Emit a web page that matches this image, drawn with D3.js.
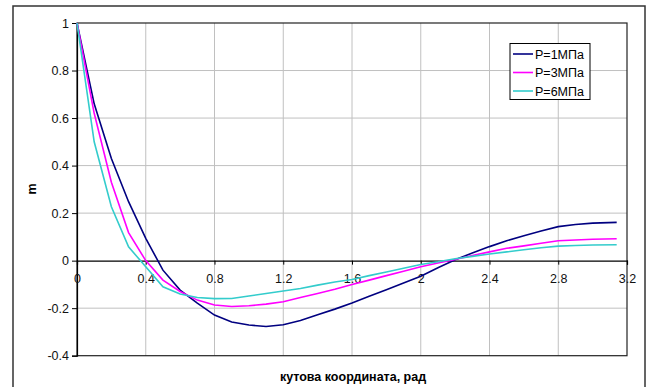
<!DOCTYPE html>
<html><head><meta charset="utf-8">
<script src="https://cdn.jsdelivr.net/npm/d3@7"></script>
<style>body{margin:0;background:#fff}svg{display:block;font-family:"Liberation Sans",Arial,sans-serif}</style>
</head><body><svg id="c" width="652" height="387"></svg>
<script>
const xValues = [0,0.1,0.2,0.3,0.4,0.5,0.6,0.7,0.8,0.9,1.0,1.1,1.2,1.3,1.4,1.5,1.6,1.7,1.8,1.9,2.0,2.1,2.2,2.3,2.4,2.5,2.6,2.7,2.8,2.9,3.0,3.14];
const p1 = [1.0,0.66,0.43,0.248,0.094,-0.04,-0.124,-0.179,-0.229,-0.258,-0.271,-0.277,-0.27,-0.252,-0.228,-0.204,-0.178,-0.15,-0.122,-0.094,-0.066,-0.03,0.004,0.032,0.059,0.084,0.105,0.125,0.143,0.152,0.158,0.161];
const p3 = [1.0,0.62,0.33,0.118,0.0,-0.082,-0.13,-0.166,-0.187,-0.193,-0.19,-0.183,-0.173,-0.155,-0.138,-0.12,-0.1,-0.082,-0.063,-0.045,-0.026,-0.01,0.005,0.022,0.037,0.052,0.062,0.073,0.084,0.087,0.09,0.092];
const p6 = [1.0,0.5,0.227,0.058,-0.026,-0.11,-0.14,-0.155,-0.16,-0.159,-0.149,-0.138,-0.128,-0.117,-0.103,-0.09,-0.079,-0.063,-0.048,-0.032,-0.016,-0.005,0.008,0.018,0.028,0.037,0.046,0.054,0.061,0.064,0.066,0.067];
const seriesNames = ["P=1МПа","P=3МПа","P=6МПа"];
const seriesColors = ["#000080","#ff00ff","#33cccc"];
const xTicks = [0,0.4,0.8,1.2,1.6,2,2.4,2.8,3.2];
const yTicks = [-0.4,-0.2,0,0.2,0.4,0.6,0.8,1];
const xTitle = "кутова координата, рад";
const yTitle = "m";

const svg = d3.select("#c");
const L=77,R=627,T=23,B=355.7;
const FS=12.5;
const x = d3.scaleLinear().domain([0,3.2]).range([L,R]);
const y = d3.scaleLinear().domain([-0.4,1]).range([B,T]);

svg.append("rect").attr("x",13).attr("y",6).attr("width",632).attr("height",395)
  .attr("fill","#fff").attr("stroke","#333").attr("stroke-width",1.5);

// grid
svg.append("g").selectAll("line").data(xTicks.filter(d=>d>0&&d<3.2)).join("line")
  .attr("x1",d=>x(d)).attr("x2",d=>x(d)).attr("y1",T).attr("y2",B)
  .attr("stroke","#c0c0c0").attr("stroke-width",1);
svg.append("g").selectAll("line").data(yTicks.filter(d=>d>-0.4&&d<1&&d!==0)).join("line")
  .attr("x1",L).attr("x2",R).attr("y1",d=>y(d)).attr("y2",d=>y(d))
  .attr("stroke","#c0c0c0").attr("stroke-width",1);

// plot border
svg.append("rect").attr("x",L).attr("y",T).attr("width",R-L).attr("height",B-T)
  .attr("fill","none").attr("stroke","#222").attr("stroke-width",1.2);

// y axis
const ya = d3.axisLeft(y).tickValues(yTicks).tickFormat(d=>String(+d.toFixed(1))).tickSize(5).tickPadding(3);
const gy = svg.append("g").attr("transform",`translate(${L},0)`).call(ya);
gy.select(".domain").attr("stroke","#000").attr("stroke-width",1.2);
gy.selectAll("text").attr("font-size",FS).attr("fill","#111").attr("font-family","Liberation Sans, Arial");

// x axis at zero
const xa = d3.axisBottom(x).tickValues(xTicks).tickFormat(d=>String(+d.toFixed(1))).tickSize(4).tickPadding(9);
const gx = svg.append("g").attr("transform",`translate(0,${y(0)})`).call(xa);
gx.select(".domain").attr("stroke","#000").attr("stroke-width",1.2);
gx.selectAll("text").attr("font-size",FS).attr("fill","#111").attr("font-family","Liberation Sans, Arial");

// lines
const all=[p1,p3,p6];
const line = d3.line().x((d,i)=>x(xValues[i])).y(d=>y(d));
all.forEach((s,k)=>{
  svg.append("path").datum(s).attr("d",line).attr("fill","none")
    .attr("stroke",seriesColors[k]).attr("stroke-width",1.6);
});

// titles
svg.append("text").attr("x",353).attr("y",381).attr("text-anchor","middle")
  .attr("font-size",FS).attr("font-weight","bold").text(xTitle);
svg.append("text").attr("transform","translate(36,189) rotate(-90)").attr("text-anchor","middle")
  .attr("font-size",FS).attr("font-weight","bold").text(yTitle);

// legend
const lg = svg.append("g");
lg.append("rect").attr("x",510).attr("y",43.5).attr("width",80).attr("height",56)
  .attr("fill","#fff").attr("stroke","#000").attr("stroke-width",1);
seriesNames.forEach((n,i)=>{
  const yy = 54 + i*18.5;
  lg.append("line").attr("x1",513).attr("x2",533).attr("y1",yy).attr("y2",yy)
    .attr("stroke",seriesColors[i]).attr("stroke-width",1.6);
  lg.append("text").attr("x",535).attr("y",yy+4.5).attr("font-size",FS).attr("fill","#000").text(n);
});
</script></body></html>
